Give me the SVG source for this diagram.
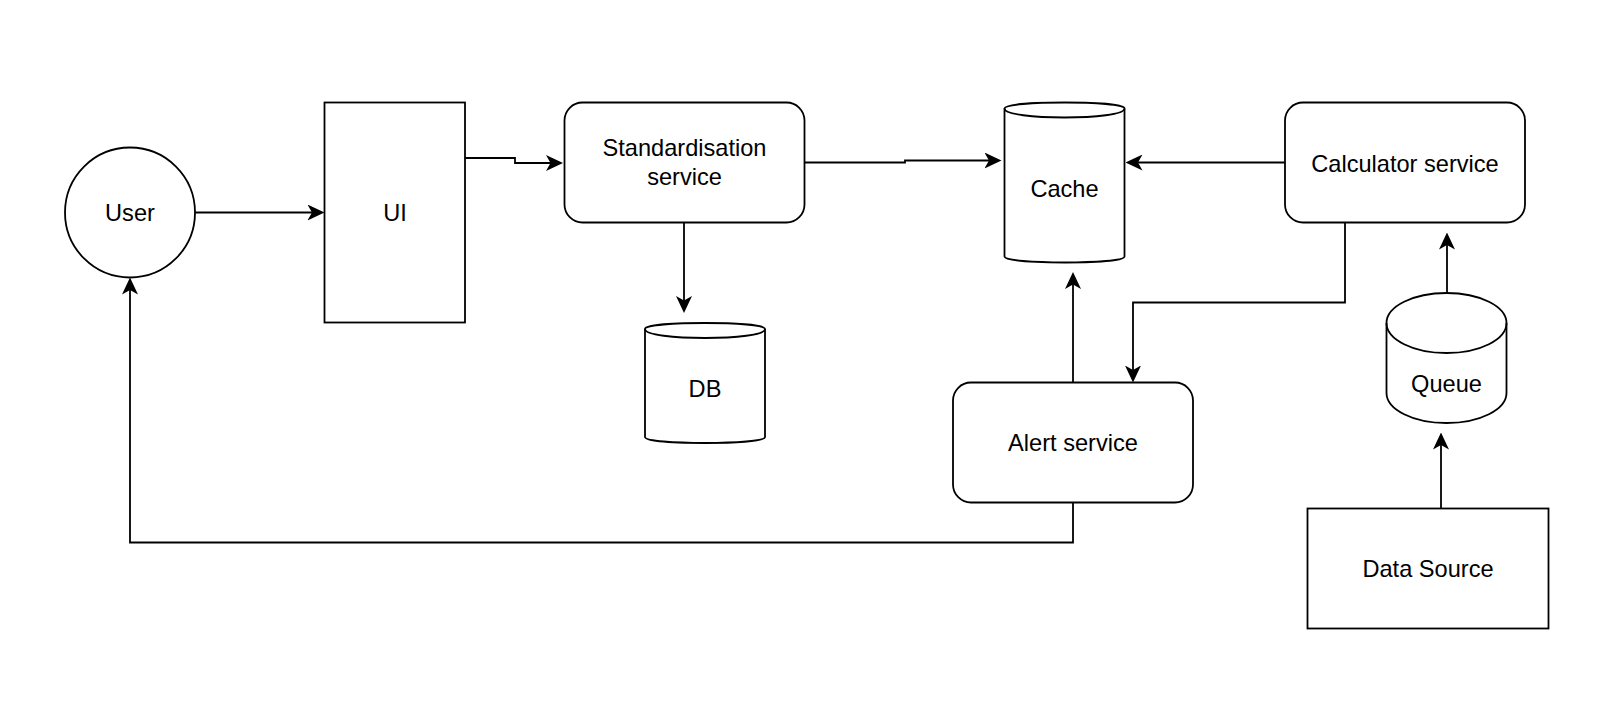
<svg xmlns="http://www.w3.org/2000/svg" width="1624" height="728" viewBox="0 0 1624 728">
<style>
.shape{fill:#fff;stroke:#000;stroke-width:1.8}
.edge{fill:none;stroke:#000;stroke-width:1.8}
.lbl{font-family:"Liberation Sans",Arial,Helvetica,sans-serif;font-size:23.6px;fill:#000;text-anchor:middle}
</style>
<defs>
<marker id="arr" viewBox="0 0 17 16" markerWidth="17" markerHeight="16" refX="13" refY="8" orient="auto" markerUnits="userSpaceOnUse">
<path d="M17,8 L0,0 L4.5,8 L0,16 Z" fill="#000"/>
</marker>
</defs>
<rect width="1624" height="728" fill="#fff"/>
<g id="connectors">
<path class="edge" marker-end="url(#arr)" d="M195,212.5 H320.5"/>
<path class="edge" marker-end="url(#arr)" d="M465,158 H515 V163 H559"/>
<path class="edge" marker-end="url(#arr)" d="M804.5,162.5 H905 V160.5 H997.5"/>
<path class="edge" marker-end="url(#arr)" d="M684,222.5 V309"/>
<path class="edge" marker-end="url(#arr)" d="M1285,162.5 H1129.5"/>
<path class="edge" marker-end="url(#arr)" d="M1345,222.5 V302.5 H1133 V378.5"/>
<path class="edge" marker-end="url(#arr)" d="M1073,382.5 V276"/>
<path class="edge" marker-end="url(#arr)" d="M1073,502.5 V542.5 H130 V281.5"/>
<path class="edge" marker-end="url(#arr)" d="M1441,508.5 V436.5"/>
<path class="edge" marker-end="url(#arr)" d="M1447,293 V236.5"/>
</g>
<g id="user">
<circle class="shape" cx="130" cy="212.5" r="65"/>
<text class="lbl" x="130" y="221">User</text>
</g>
<g id="ui">
<rect class="shape" x="324.5" y="102.5" width="140.5" height="220"/>
<text class="lbl" x="395" y="221">UI</text>
</g>
<g id="standardisation">
<rect class="shape" x="564.5" y="102.5" width="240" height="120" rx="18" ry="18"/>
<text class="lbl" x="684.5" y="156">Standardisation</text>
<text class="lbl" x="684.5" y="184.5">service</text>
</g>
<g id="db">
<path class="shape" d="M645,329 C645,321 765,321 765,329 L765,437 C765,445 645,445 645,437 Z"/>
<path class="edge" d="M645,329 C645,341 765,341 765,329"/>
<text class="lbl" x="705" y="396.5">DB</text>
</g>
<g id="cache">
<path class="shape" d="M1004.5,108.5 C1004.5,100.5 1124.5,100.5 1124.5,108.5 L1124.5,256.5 C1124.5,264.5 1004.5,264.5 1004.5,256.5 Z"/>
<path class="edge" d="M1004.5,108.5 C1004.5,120.5 1124.5,120.5 1124.5,108.5"/>
<text class="lbl" x="1064.5" y="197">Cache</text>
</g>
<g id="calculator">
<rect class="shape" x="1285" y="102.5" width="240" height="120" rx="18" ry="18"/>
<text class="lbl" x="1405" y="171.5">Calculator service</text>
</g>
<g id="alert">
<rect class="shape" x="953" y="382.5" width="240" height="120" rx="18" ry="18"/>
<text class="lbl" x="1073" y="451">Alert service</text>
</g>
<g id="queue">
<path class="shape" d="M1386.5,323 A60,30 0 0 1 1506.5,323 L1506.5,393 A60,30 0 0 1 1386.5,393 Z"/>
<path class="edge" d="M1386.5,323 A60,30 0 0 0 1506.5,323"/>
<text class="lbl" x="1446.5" y="392">Queue</text>
</g>
<g id="datasource">
<rect class="shape" x="1307.5" y="508.5" width="241" height="120"/>
<text class="lbl" x="1428" y="577">Data Source</text>
</g>
</svg>
